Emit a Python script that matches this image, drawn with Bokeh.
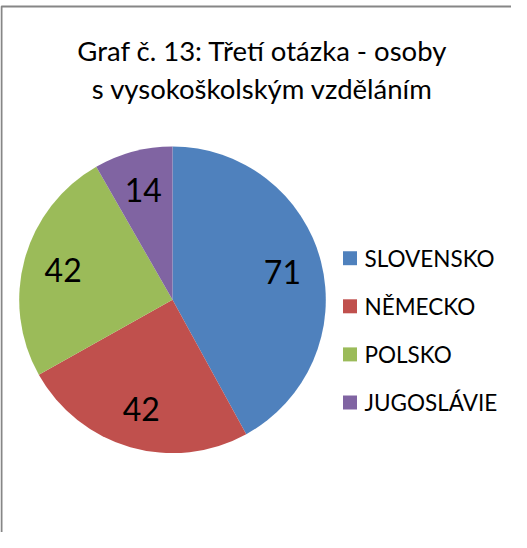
import math
from bokeh.plotting import figure
from bokeh.models import Range1d, ColumnDataSource
from bokeh.core.properties import value
from bokeh.embed import file_html
from bokeh.resources import INLINE

categories = ["SLOVENSKO", "NĚMECKO", "POLSKO", "JUGOSLÁVIE"]
values = [71, 42, 42, 14]
colors = ["#4F81BD", "#C0504D", "#9BBB59", "#8064A2"]
title_lines = ["Graf č. 13: Třetí otázka - osoby", "s vysokoškolským vzděláním"]

W, H = 511, 532
FONT = "Lato"

p = figure(width=W, height=H, output_backend="svg", toolbar_location=None,
           x_range=Range1d(0, W), y_range=Range1d(0, H), min_border=0,
           outline_line_color=None)
p.axis.visible = False
p.grid.visible = False
p.background_fill_color = "white"

def Y(img_y):
    return H - (img_y - 8)

def X(img_x):
    return img_x - 8

# border
p.line(x=[X(9), X(9), X(540)], y=[Y(600), Y(14), Y(14)], line_color="#868686", line_width=2)

# title
p.text(x=[X(270)] * 2, y=[Y(58), Y(96)], text=title_lines, text_align="center",
       text_baseline="middle", text_font=value(FONT), text_font_size="27.5px", text_color="black")

# pie
cx, cy, r = X(180), Y(307.3), 153.3
total = sum(values)
starts, ends, lx, ly = [], [], [], []
cum = 0.0
for v in values:
    a0 = math.pi / 2 - 2 * math.pi * cum / total
    a1 = math.pi / 2 - 2 * math.pi * (cum + v) / total
    starts.append(a0)
    ends.append(a1)
    mid = (a0 + a1) / 2
    lx.append(cx + 0.74 * r * math.cos(mid))
    ly.append(cy + 0.74 * r * math.sin(mid))
    cum += v

src = ColumnDataSource(dict(start=starts, end=ends, color=colors, lx=lx, ly=ly,
                            lab=[str(v) for v in values]))
p.wedge(x=cx, y=cy, radius=r, start_angle="start", end_angle="end", direction="clock",
        fill_color="color", line_color=None, source=src)
p.text(x="lx", y="ly", text="lab", source=src, text_align="center", text_baseline="middle",
       text_font=value(FONT), text_font_size="32px", text_color="black")

# legend
ly0 = [Y(265.7 + 48.1 * i) for i in range(len(categories))]
p.rect(x=[X(357.5)] * len(categories), y=ly0, width=14, height=14, fill_color=colors, line_color=None)
p.text(x=[X(372)] * len(categories), y=ly0, text=categories, text_align="left",
       text_baseline="middle", text_font=value(FONT), text_font_size="22.5px", text_color="black")

open("out.html", "w").write(file_html(p, INLINE))
